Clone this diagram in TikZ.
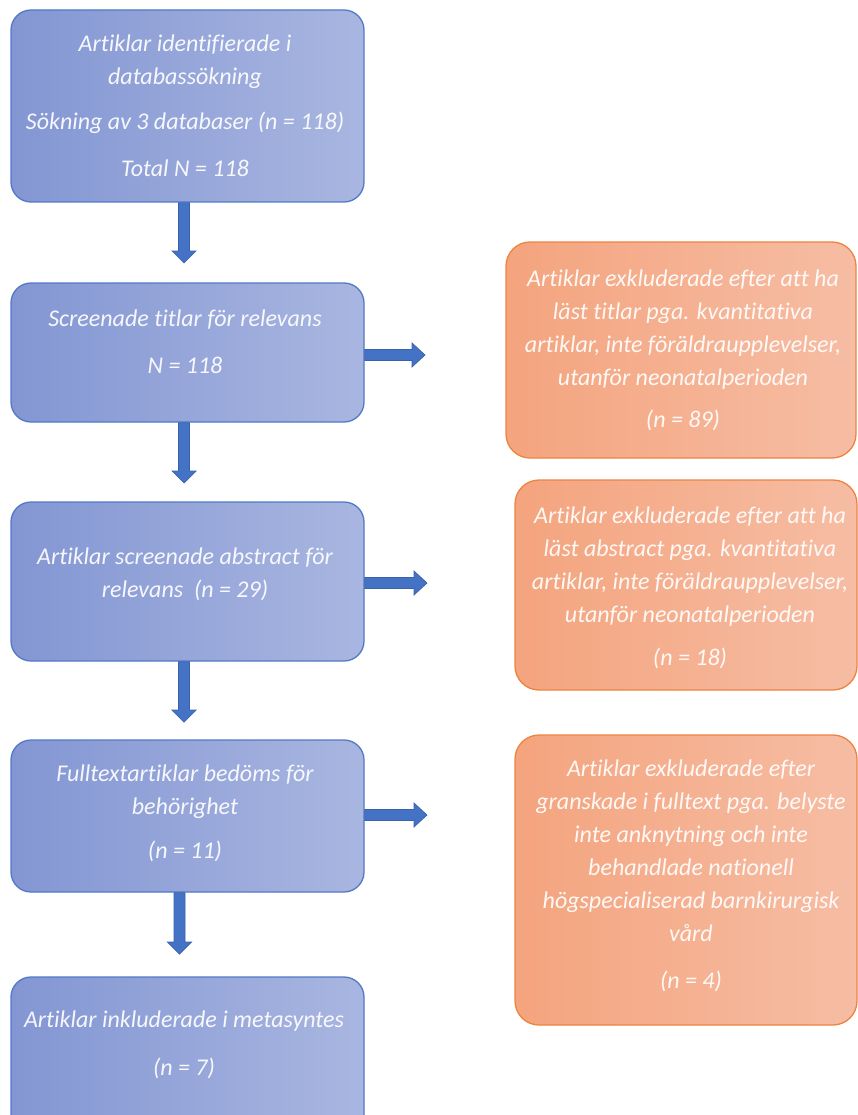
\documentclass[tikz,border=0pt]{standalone}
\usepackage{fontspec}
\setmainfont{Carlito}[Ligatures=NoCommon]
\usetikzlibrary{calc}
\definecolor{bleft}{HTML}{8396D3}
\definecolor{bright}{HTML}{A9B6E0}
\definecolor{bborder}{HTML}{5179C8}
\definecolor{oleft}{HTML}{F4A47E}
\definecolor{oright}{HTML}{F6BDA4}
\definecolor{oborder}{HTML}{EE8340}
\definecolor{arrowblue}{HTML}{4472C4}
\definecolor{arrowedge}{HTML}{3A62AC}
\begin{document}
\begin{tikzpicture}[x=1pt,y=-1pt,
  bluebox/.style={draw=bborder, line width=1.3pt, rounded corners=20pt,
    left color=bleft, right color=bright, inner sep=0pt, minimum width=353pt},
  orangebox/.style={draw=oborder, line width=1.3pt, rounded corners=24pt,
    left color=oleft, right color=oright, inner sep=0pt},
  boxtext/.style={text=white, text opacity=0.92, align=center, inner sep=0pt,
    font=\fontsize{24}{33}\selectfont\itshape},
  downblock/.style={fill=arrowblue, draw=arrowedge, line width=0.7pt,
    to path={let \p1=(\tikztostart), \p2=(\tikztotarget) in
      (\x1-5.5pt,\y1) -- (\x1-5.5pt,\y2+12pt) -- (\x1-12pt,\y2+12pt) -- (\x1,\y2)
      -- (\x1+12pt,\y2+12pt) -- (\x1+5.5pt,\y2+12pt) -- (\x1+5.5pt,\y1) -- cycle}},
  rightblock/.style={fill=arrowblue, draw=arrowedge, line width=0.7pt,
    to path={let \p1=(\tikztostart), \p2=(\tikztotarget) in
      (\x1,\y1+5.5pt) -- (\x2-13pt,\y1+5.5pt) -- (\x2-13pt,\y1+12pt) -- (\x2,\y1)
      -- (\x2-13pt,\y1-12pt) -- (\x2-13pt,\y1-5.5pt) -- (\x1,\y1-5.5pt) -- cycle}}
]
\useasboundingbox (0,0) rectangle (858,1115);
\clip (0,0) rectangle (858,1115);

% left column boxes
\node[bluebox, minimum height=192pt] (b1) at (187.5,106) {};
\node[bluebox, minimum height=139pt] (b2) at (187.5,352.5) {};
\node[bluebox, minimum height=159pt] (b3) at (187.5,581.5) {};
\node[bluebox, minimum height=152pt] (b4) at (187.5,816) {};
\node[bluebox, minimum height=170pt] (b5) at (187.5,1062) {};

% right column boxes
\node[orangebox, minimum width=350pt, minimum height=216pt] (o1) at (681,350) {};
\node[orangebox, minimum width=342pt, minimum height=210pt] (o2) at (686,585) {};
\node[orangebox, minimum width=342pt, minimum height=290pt] (o3) at (686,880) {};

% texts
\node[boxtext] (t1) at (185,106) {Artiklar identifierade i\\databassökning\\[12pt]Sökning av 3 databaser (n = 118)\\[14pt]Total N = 118};
\node[boxtext] (t2) at (185,342) {Screenade titlar för relevans\\[14pt]N = 118};
\node[boxtext] (t3) at (185,574) {Artiklar screenade abstract för\\relevans~~(n = 29)};
\node[boxtext] (t4) at (185,813) {Fulltextartiklar bedöms för\\behörighet\\[11pt](n = 11)};
\node[boxtext] (t5) at (184,1045) {Artiklar inkluderade i metasyntes\\[15pt](n = 7)};

\node[boxtext] (u1) at (683,350) {Artiklar exkluderade efter att ha\\läst titlar pga. kvantitativa\\artiklar, inte föräldraupplevelser,\\utanför neonatalperioden\\[9pt](n = 89)};
\node[boxtext] (u2) at (690,588) {Artiklar exkluderade efter att ha\\läst abstract pga. kvantitativa\\artiklar, inte föräldraupplevelser,\\utanför neonatalperioden\\[10pt](n = 18)};
\node[boxtext] (u3) at (691,876) {Artiklar exkluderade efter\\granskade i fulltext pga. belyste\\inte anknytning och inte\\behandlade nationell\\högspecialiserad barnkirurgisk\\vård\\[14pt](n = 4)};

% arrow end points
\coordinate (d1) at (184,263);
\coordinate (d2) at (184,483);
\coordinate (d3) at (184,722);
\coordinate (d4) at (179.5,954);
\coordinate (r1) at (425,355);
\coordinate (r2) at (427,583);
\coordinate (r3) at (427,815);

% down arrows
\path[downblock] (b1.south -| d1) to (d1);
\path[downblock] (b2.south -| d2) to (d2);
\path[downblock] (b3.south -| d3) to (d3);
\path[downblock] (b4.south -| d4) to (d4);

% right arrows
\path[rightblock] (b2.east |- r1) to (r1);
\path[rightblock] (b3.east |- r2) to (r2);
\path[rightblock] (b4.east |- r3) to (r3);
\end{tikzpicture}
\end{document}
